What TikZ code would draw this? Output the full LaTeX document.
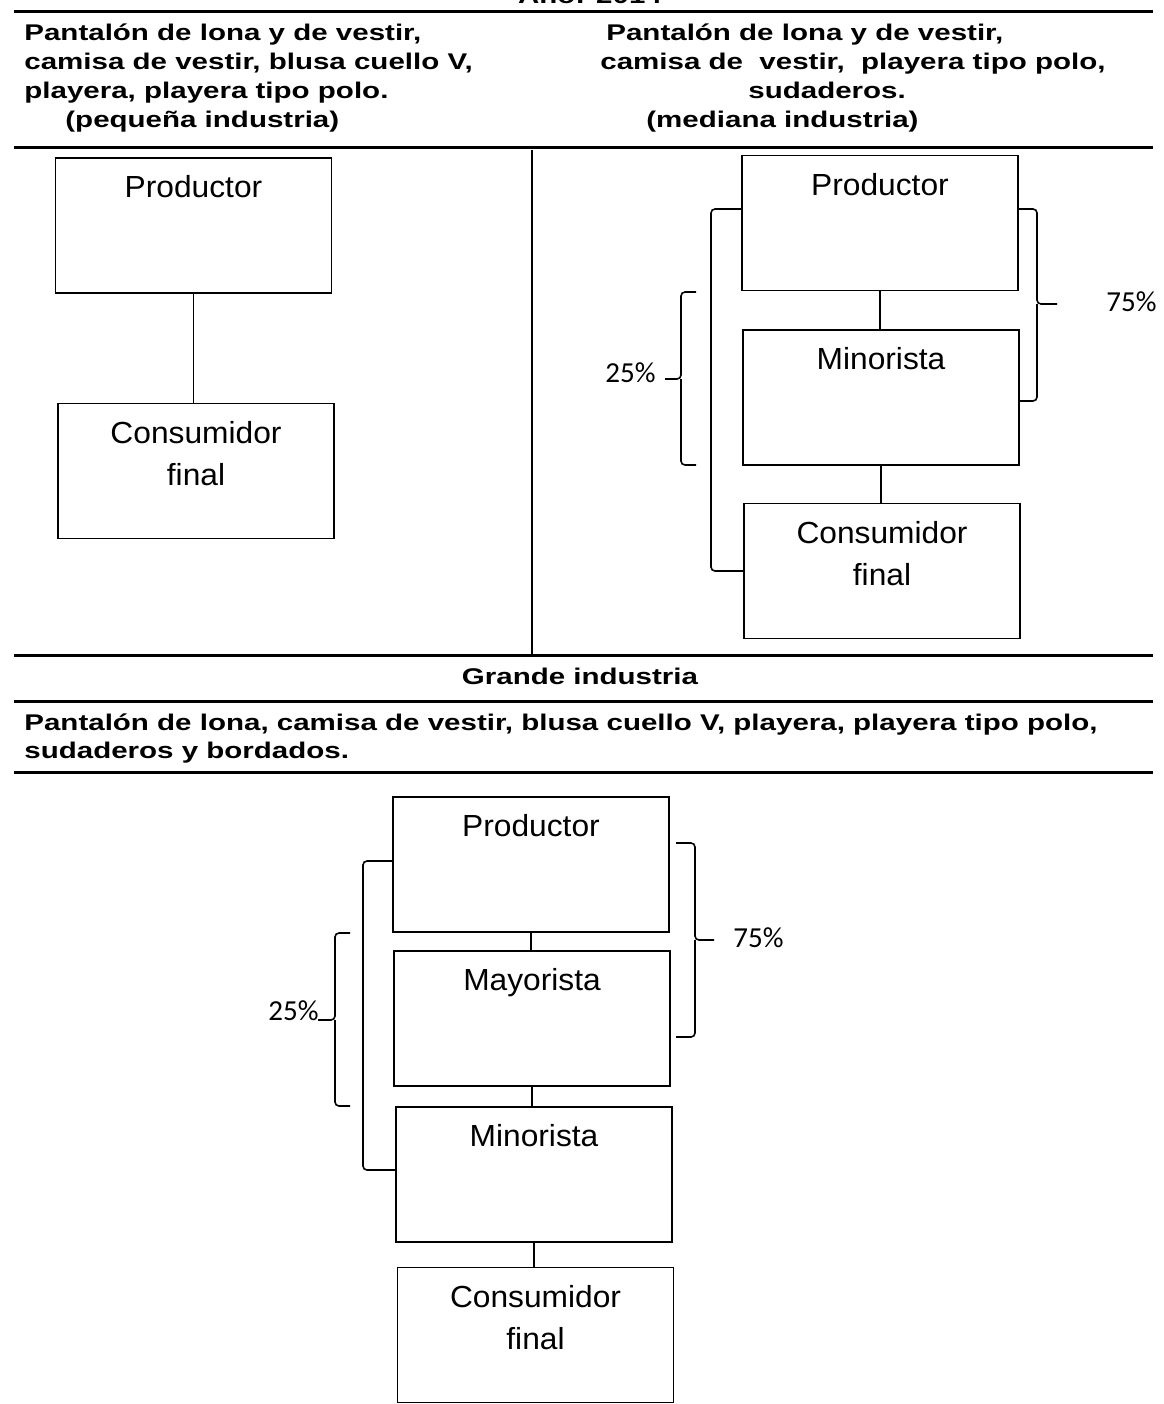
\documentclass[tikz,border=0pt]{standalone}
\usepackage{fontspec}
\setmainfont{Liberation Sans}
\newfontfamily\headfont[FakeStretch=1.3]{Liberation Sans}
\newfontfamily\boxfont[FakeStretch=1.04]{Liberation Sans}
\newfontfamily\pctfont{Carlito}
\tikzset{
  box/.style={draw, line width=0.8pt, minimum width=138pt, minimum height=67.5pt, inner sep=0pt},
  boxtext/.style={anchor=north, yshift=-9pt, inner sep=0pt, align=center,
    font=\boxfont\fontsize{15.25pt}{21pt}\selectfont},
  head/.style={anchor=base west, inner sep=0pt, font=\headfont\bfseries\fontsize{11.35pt}{14pt}\selectfont},
  pct/.style={inner sep=0pt, font=\pctfont\fontsize{14.5pt}{16pt}\selectfont},
  rule/.style={line width=1.5pt},
  link/.style={line width=0.8pt},
  brk/.style={line width=0.8pt, rounded corners=2pt}
}
\begin{document}
\begin{tikzpicture}[x=0.5pt,y=-0.5pt]
\useasboundingbox (0,0) rectangle (1163,1404);

\node[head, anchor=base] (year) at (590,3) {Año: 2014};

\draw[rule] (14,11) -- (1153,11);
\draw[rule] (14,147) -- (1153,147);
\draw[rule] (14,655) -- (1153,655);
\draw[rule] (14,701) -- (1153,701);
\draw[rule] (14,772) -- (1153,772);
\draw[link] (532,150) -- (532,655);

\node[head] (hl1) at (24,40.5) {Pantalón de lona y de vestir,};
\node[head] (hl2) at (24,69.5) {camisa de vestir, blusa cuello V,};
\node[head] (hl3) at (24,98.5) {playera, playera tipo polo.};
\node[head] (hl4) at (65,127.5) {(pequeña industria)};

\node[head] (hm1) at (606,40.5) {Pantalón de lona y de vestir,};
\node[head] (hm2) at (600,69.5) {camisa de\ \ vestir,\ \ playera tipo polo,};
\node[head] (hm3) at (748,98.5) {sudaderos.};
\node[head] (hm4) at (646,127.5) {(mediana industria)};

\node[head, anchor=base] (hg) at (580,684) {Grande industria};
\node[head] (hg1) at (24,730.5) {Pantalón de lona, camisa de vestir, blusa cuello V, playera, playera tipo polo,};
\node[head] (hg2) at (24,758) {sudaderos y bordados.};

% pequena industria
\node[box, label={[boxtext]north:Productor}] (lprod) at (193.5,225.5) {};
\node[box, label={[boxtext]north:Consumidor\\final}] (lcons) at (196,471) {};
\draw[link] (lprod.south) -- (lprod.south |- lcons.north);

% mediana industria
\node[box, label={[boxtext]north:Productor}] (mprod) at (880,223) {};
\node[box, label={[boxtext]north:Minorista}] (mmin) at (881,397.5) {};
\node[box, label={[boxtext]north:Consumidor\\final}] (mcons) at (882,571) {};
\draw[link] (mprod.south) -- (mprod.south |- mmin.north);
\draw[link] (mmin.south) -- (mmin.south |- mcons.north);

\draw[brk] (mprod.west |- 0,209) -- (711,209) -- (711,571) -- (mcons.west |- 0,571);
\draw[brk] (696,292) -- (681,292) -- (681,379) -- (665,379);
\draw[brk] (681,379) -- (681,465) -- (696,465);
\node[pct, anchor=base east] (mp25) at (656,382) {25\%};
\draw[brk] (mprod.east |- 0,209) -- (1037,209) -- (1037,304) -- (1057,304);
\draw[brk] (1037,304) -- (1037,401) -- (mmin.east |- 0,401);
\node[pct, anchor=west] (mp75) at (1106,302) {75\%};

% grande industria
\node[box, label={[boxtext]north:Productor}] (gprod) at (531,864.5) {};
\node[box, label={[boxtext]north:Mayorista}] (gmay) at (532,1018.5) {};
\node[box, label={[boxtext]north:Minorista}] (gmin) at (534,1174.5) {};
\node[box, label={[boxtext]north:Consumidor\\final}] (gcons) at (535.5,1335) {};
\draw[link] (gprod.south) -- (gprod.south |- gmay.north);
\draw[link] (gmay.south) -- (gmay.south |- gmin.north);
\draw[link] (gmin.south) -- (gmin.south |- gcons.north);

\draw[brk] (gprod.west |- 0,861) -- (363,861) -- (363,1170) -- (gmin.west |- 0,1170);
\draw[brk] (350,933) -- (335,933) -- (335,1020) -- (318,1020);
\draw[brk] (335,1020) -- (335,1106) -- (350,1106);
\node[pct, anchor=base east] (gp25) at (319,1020) {25\%};
\draw[brk] (676,843) -- (695,843) -- (695,940) -- (714,940);
\draw[brk] (695,940) -- (695,1037) -- (676,1037);
\node[pct, anchor=west] (gp75) at (733,938) {75\%};
\end{tikzpicture}
\end{document}
